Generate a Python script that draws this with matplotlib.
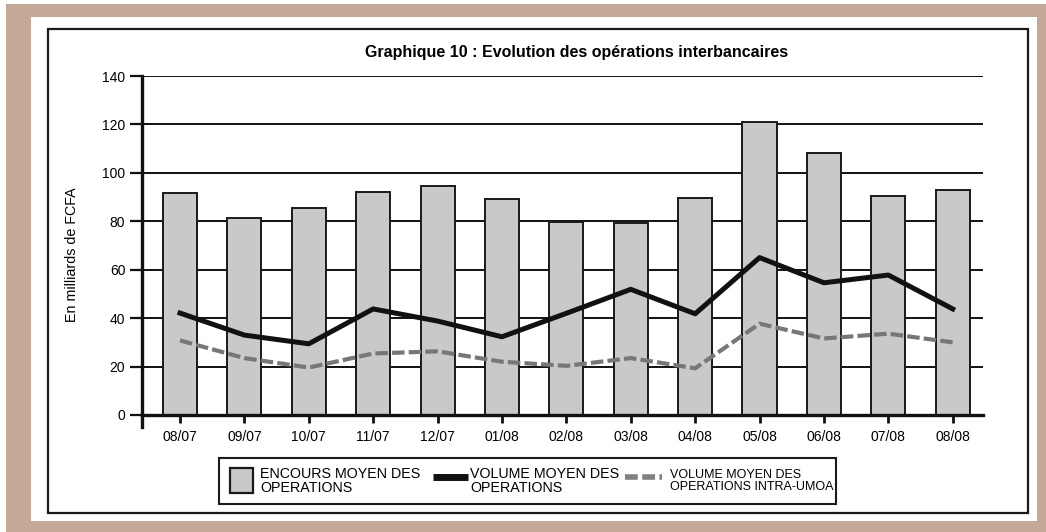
import matplotlib
matplotlib.use("Agg")
import matplotlib.pyplot as plt
from matplotlib.patches import Rectangle
from matplotlib.lines import Line2D

plt.rcParams['font.family'] = ['Liberation Sans', 'DejaVu Sans']

# --- data ---
months = ["08/07", "09/07", "10/07", "11/07", "12/07", "01/08", "02/08",
          "03/08", "04/08", "05/08", "06/08", "07/08", "08/08"]
encours = [91.5, 81.3, 85.3, 92.2, 94.5, 89.3, 79.6, 79.2, 89.7, 120.8, 108.3, 90.3, 93.1]
volume = [42.1, 33.0, 29.4, 43.8, 38.8, 32.3, 42.0, 51.9, 41.8, 65.0, 54.6, 57.8, 43.8]
volume_umoa = [30.8, 23.5, 19.6, 25.4, 26.3, 22.0, 20.3, 23.5, 19.3, 37.7, 31.6, 33.6, 30.0]
legend_labels = ["ENCOURS MOYEN DES\nOPERATIONS", "VOLUME MOYEN DES\nOPERATIONS",
                 "VOLUME MOYEN DES\nOPERATIONS INTRA-UMOA"]

BAR_COLOR = "#c8c9cb"
DARK = "#111111"
GREY_LINE = "#777777"

W, H = 1046, 532
fig = plt.figure(figsize=(W / 100, H / 100), dpi=100)
fig.patch.set_facecolor("white")


def px(x0, y0, x1, y1):
    # pixel box (top-left origin) -> figure fraction rectangle args
    return (x0 / W, 1 - y1 / H), (x1 - x0) / W, (y1 - y0) / H


# decorative background: tan band, white panel, black frame
fig.add_artist(Rectangle(*px(6, 4, 1046, 532), transform=fig.transFigure,
                         facecolor="#c4a898", edgecolor="none", zorder=0))
fig.add_artist(Rectangle(*px(31, 17, 1037, 521), transform=fig.transFigure,
                         facecolor="white", edgecolor="none", zorder=0))
fig.add_artist(Rectangle(*px(48, 29, 1028, 513), transform=fig.transFigure,
                         facecolor="none", edgecolor="#1a1a1a", lw=1.6, zorder=1))

ax = fig.add_axes([142 / W, 1 - 415 / H, (983 - 142) / W, (415 - 76) / H])
ax.set_facecolor("none")
x = list(range(len(months)))

ax.bar(x, encours, width=0.53, color=BAR_COLOR, edgecolor="#1a1a1a", linewidth=1.4, zorder=2)
ax.plot(x, volume, color=DARK, lw=3.6, solid_joinstyle="round", zorder=3)
ax.plot(x, volume_umoa, color=GREY_LINE, lw=3.0, dashes=(3, 1), zorder=3)

ax.set_xlim(-0.59, 12.47)
ax.set_ylim(0, 140)
ax.set_yticks(range(0, 141, 20))
ax.set_xticks(x)
ax.set_xticklabels(months)
ax.yaxis.grid(True, color=DARK, lw=1.4)
ax.set_axisbelow(True)

for s in ["top", "right"]:
    ax.spines[s].set_visible(False)
for s in ["left", "bottom"]:
    ax.spines[s].set_linewidth(2.4)
    ax.spines[s].set_color(DARK)
# left axis runs a little below zero, like the original
ax.add_line(Line2D([0, 0], [0, -0.035], transform=ax.transAxes, color=DARK,
                   lw=2.4, clip_on=False))

ax.tick_params(axis="y", length=9, width=1.6, pad=3, labelsize=10, color=DARK)
ax.tick_params(axis="x", length=6, width=2.0, pad=5, labelsize=10, color=DARK)

fig.text(72 / W, 1 - 255 / H, "En milliards de FCFA", rotation=90, ha="center",
         va="center", fontsize=10.3)
fig.text(577 / W, 1 - 52 / H, "Graphique 10 : Evolution des opérations interbancaires",
         ha="center", va="center", fontsize=11.5, fontweight="bold")

# legend drawn by hand so its pieces sit where the original puts them
fig.add_artist(Rectangle(*px(219, 458, 836, 504), transform=fig.transFigure,
                         facecolor="white", edgecolor="#1a1a1a", lw=1.5, zorder=4))
fig.add_artist(Rectangle(*px(230, 468, 253, 493), transform=fig.transFigure,
                         facecolor=BAR_COLOR, edgecolor="#1a1a1a", lw=1.6, zorder=5))
fig.add_artist(Line2D([433 / W, 468 / W], [1 - 477 / H] * 2, transform=fig.transFigure,
                      color=DARK, lw=5, solid_capstyle="butt", zorder=5))
fig.add_artist(Line2D([625 / W, 662 / W], [1 - 477 / H] * 2, transform=fig.transFigure,
                      color="#808080", lw=4, dashes=(2.3, 0.8), zorder=5))
for tx, lab, fs in zip([260, 470, 670], legend_labels, [10.3, 10.3, 9]):
    fig.text(tx / W, 1 - 481 / H, lab, ha="left", va="center", fontsize=fs,
             linespacing=1.05, zorder=6)

fig.savefig("out.png", dpi=100)
